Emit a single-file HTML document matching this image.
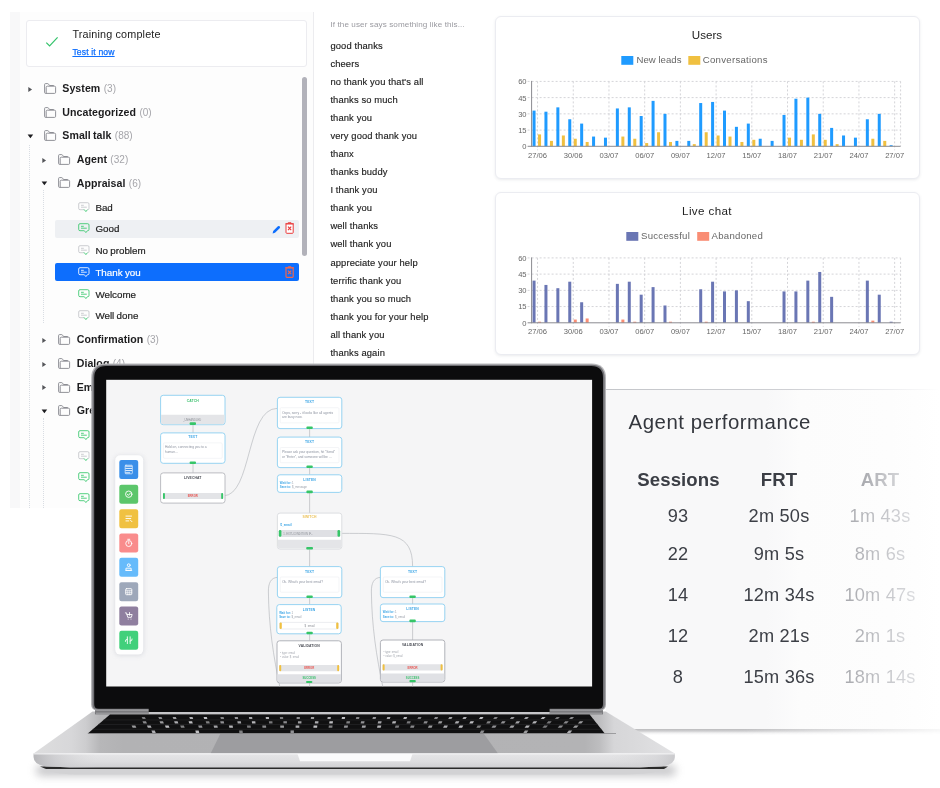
<!DOCTYPE html>
<html lang="en"><head><meta charset="utf-8"><title>Dashboard</title>
<style>
html,body{margin:0;padding:0;background:#fff}
body{width:940px;height:788px;position:relative;overflow:hidden;font-family:"Liberation Sans", sans-serif;-webkit-font-smoothing:antialiased}
.abs{position:absolute}
#tree{position:absolute;left:0;top:0;width:480px;height:510px;overflow:hidden}
.fl{position:absolute;font-size:10.6px;line-height:14px;color:#1c1c1e;white-space:nowrap;letter-spacing:.06px;word-spacing:-.9px}
.fl span{color:#a5a5aa;font-weight:400;font-size:10px;letter-spacing:.05px;margin-left:1.2px}
.it{position:absolute;font-size:9.8px;line-height:14px;white-space:nowrap;letter-spacing:0;word-spacing:-.4px;-webkit-text-stroke:.18px currentColor}
.ph{position:absolute;left:330.4px;font-size:9.4px;line-height:14px;color:#222;white-space:nowrap;letter-spacing:.12px;-webkit-text-stroke:.15px #222}
.card{position:absolute;left:495px;width:422.5px;height:161.5px;background:#fff;border:1px solid #ebecf1;border-radius:6px;box-shadow:0 1px 3px rgba(60,70,90,.11)}
svg text{font-family:"Liberation Sans", sans-serif}

.agh{font-size:18.6px;line-height:22px;font-weight:700;text-align:center;white-space:nowrap;letter-spacing:.1px}
.agr{font-size:18.2px;line-height:22px;text-align:center;white-space:nowrap;letter-spacing:.2px}
.agf{color:#c2c3c7;background:linear-gradient(90deg,#a3a4a9 15%,#dfe0e3 85%);-webkit-background-clip:text;background-clip:text;-webkit-text-fill-color:transparent}

#wrap{position:absolute;left:0;top:0;width:940px;height:788px;overflow:hidden;will-change:transform}
</style></head><body><div id="wrap">

<!-- ============ intent tree panel ============ -->
<div id="tree">
  <div class="abs" style="left:10px;top:12px;width:303px;height:496px;background:#fdfdfd"></div>
  <div class="abs" style="left:10px;top:12px;width:10px;height:496px;background:#f8f8f9"></div>
  <div class="abs" style="left:313px;top:12px;width:1px;height:496px;background:#ececef"></div>
  <div class="abs" style="left:26px;top:19.6px;width:279px;height:45.4px;border:1px solid #ececf0;border-radius:3px;background:#fff"></div>
  <svg class="abs" style="left:45px;top:36px" width="14" height="12" viewBox="0 0 14 12"><path d="M1.3 6.6 L4.6 10 L12.6 1.4" fill="none" stroke="#34c36b" stroke-width="1.2"/></svg>
  <div class="abs" style="left:72.4px;top:27.4px;font-size:10.8px;line-height:14px;color:#222;letter-spacing:.17px">Training complete</div>
  <div class="abs" style="left:72.4px;top:45.7px;font-size:8.6px;line-height:12px;color:#0d6efd;text-decoration:underline;text-underline-offset:.6px;text-decoration-thickness:.7px;letter-spacing:.15px;-webkit-text-stroke:.25px #0d6efd">Test it now</div>
  <!-- guides -->
  <div class="abs" style="left:29px;top:145px;width:0;height:363px;border-left:1px dotted #d9dde3"></div>
  <div class="abs" style="left:43px;top:190px;width:0;height:133px;border-left:1px dotted #d9dde3"></div>
  <div class="abs" style="left:43px;top:418px;width:0;height:90px;border-left:1px dotted #d9dde3"></div>
  <!-- scrollbar -->
  <div class="abs" style="left:302.1px;top:77px;width:4.7px;height:178.5px;border-radius:2.5px;background:#b2b2ba"></div>
  <svg style="position:absolute;left:27.8px;top:85.9px" width="5" height="7" viewBox="0 0 5 7"><path d="M0.3 0.9 L4.1 3.5 L0.3 6.1 Z" fill="#55565a"/></svg>
<svg style="position:absolute;left:43.9px;top:83.1px" width="13" height="12" viewBox="0 0 13 12"><path d="M0.6 9.4 V1.5 Q0.6 0.6 1.5 0.6 H3.7 Q4.3 0.6 4.6 1.2 L5 2 Q5.2 2.5 5.8 2.5 H9.8" fill="none" stroke="#85868c" stroke-width=".9"/><path d="M2.2 10.3 V4.3 Q2.2 3.2 3.3 3.2 H10.5 Q11.6 3.2 11.6 4.3 V9.3 Q11.6 10.4 10.5 10.4 H1.6 Q0.6 10.4 0.6 9.4" fill="none" stroke="#85868c" stroke-width=".9"/></svg>
<div class="fl" style="left:62.3px;top:81.3px"><b>System</b> <span>(3)</span></div>
<svg style="position:absolute;left:43.9px;top:106.5px" width="13" height="12" viewBox="0 0 13 12"><path d="M0.6 9.4 V1.5 Q0.6 0.6 1.5 0.6 H3.7 Q4.3 0.6 4.6 1.2 L5 2 Q5.2 2.5 5.8 2.5 H9.8" fill="none" stroke="#85868c" stroke-width=".9"/><path d="M2.2 10.3 V4.3 Q2.2 3.2 3.3 3.2 H10.5 Q11.6 3.2 11.6 4.3 V9.3 Q11.6 10.4 10.5 10.4 H1.6 Q0.6 10.4 0.6 9.4" fill="none" stroke="#85868c" stroke-width=".9"/></svg>
<div class="fl" style="left:62.3px;top:104.7px"><b>Uncategorized</b> <span>(0)</span></div>
<svg style="position:absolute;left:26.8px;top:133.6px" width="7" height="5" viewBox="0 0 7 5"><path d="M0.6 0.4 L6.2 0.4 L3.4 4.2 Z" fill="#1d1d20"/></svg>
<svg style="position:absolute;left:43.9px;top:129.79999999999998px" width="13" height="12" viewBox="0 0 13 12"><path d="M0.6 9.4 V1.5 Q0.6 0.6 1.5 0.6 H3.7 Q4.3 0.6 4.6 1.2 L5 2 Q5.2 2.5 5.8 2.5 H9.8" fill="none" stroke="#85868c" stroke-width=".9"/><path d="M2.2 10.3 V4.3 Q2.2 3.2 3.3 3.2 H10.5 Q11.6 3.2 11.6 4.3 V9.3 Q11.6 10.4 10.5 10.4 H1.6 Q0.6 10.4 0.6 9.4" fill="none" stroke="#85868c" stroke-width=".9"/></svg>
<div class="fl" style="left:62.3px;top:128.0px"><b>Small talk</b> <span>(88)</span></div>
<svg style="position:absolute;left:42.0px;top:156.6px" width="5" height="7" viewBox="0 0 5 7"><path d="M0.3 0.9 L4.1 3.5 L0.3 6.1 Z" fill="#55565a"/></svg>
<svg style="position:absolute;left:58.1px;top:153.79999999999998px" width="13" height="12" viewBox="0 0 13 12"><path d="M0.6 9.4 V1.5 Q0.6 0.6 1.5 0.6 H3.7 Q4.3 0.6 4.6 1.2 L5 2 Q5.2 2.5 5.8 2.5 H9.8" fill="none" stroke="#85868c" stroke-width=".9"/><path d="M2.2 10.3 V4.3 Q2.2 3.2 3.3 3.2 H10.5 Q11.6 3.2 11.6 4.3 V9.3 Q11.6 10.4 10.5 10.4 H1.6 Q0.6 10.4 0.6 9.4" fill="none" stroke="#85868c" stroke-width=".9"/></svg>
<div class="fl" style="left:76.7px;top:152.0px"><b>Agent</b> <span>(32)</span></div>
<svg style="position:absolute;left:41.0px;top:181.20000000000002px" width="7" height="5" viewBox="0 0 7 5"><path d="M0.6 0.4 L6.2 0.4 L3.4 4.2 Z" fill="#1d1d20"/></svg>
<svg style="position:absolute;left:58.1px;top:177.4px" width="13" height="12" viewBox="0 0 13 12"><path d="M0.6 9.4 V1.5 Q0.6 0.6 1.5 0.6 H3.7 Q4.3 0.6 4.6 1.2 L5 2 Q5.2 2.5 5.8 2.5 H9.8" fill="none" stroke="#85868c" stroke-width=".9"/><path d="M2.2 10.3 V4.3 Q2.2 3.2 3.3 3.2 H10.5 Q11.6 3.2 11.6 4.3 V9.3 Q11.6 10.4 10.5 10.4 H1.6 Q0.6 10.4 0.6 9.4" fill="none" stroke="#85868c" stroke-width=".9"/></svg>
<div class="fl" style="left:76.7px;top:175.6px"><b>Appraisal</b> <span>(6)</span></div>
<svg style="position:absolute;left:42.0px;top:336.79999999999995px" width="5" height="7" viewBox="0 0 5 7"><path d="M0.3 0.9 L4.1 3.5 L0.3 6.1 Z" fill="#55565a"/></svg>
<svg style="position:absolute;left:58.1px;top:334.0px" width="13" height="12" viewBox="0 0 13 12"><path d="M0.6 9.4 V1.5 Q0.6 0.6 1.5 0.6 H3.7 Q4.3 0.6 4.6 1.2 L5 2 Q5.2 2.5 5.8 2.5 H9.8" fill="none" stroke="#85868c" stroke-width=".9"/><path d="M2.2 10.3 V4.3 Q2.2 3.2 3.3 3.2 H10.5 Q11.6 3.2 11.6 4.3 V9.3 Q11.6 10.4 10.5 10.4 H1.6 Q0.6 10.4 0.6 9.4" fill="none" stroke="#85868c" stroke-width=".9"/></svg>
<div class="fl" style="left:76.7px;top:332.2px"><b>Confirmation</b> <span>(3)</span></div>
<svg style="position:absolute;left:42.0px;top:360.59999999999997px" width="5" height="7" viewBox="0 0 5 7"><path d="M0.3 0.9 L4.1 3.5 L0.3 6.1 Z" fill="#55565a"/></svg>
<svg style="position:absolute;left:58.1px;top:357.8px" width="13" height="12" viewBox="0 0 13 12"><path d="M0.6 9.4 V1.5 Q0.6 0.6 1.5 0.6 H3.7 Q4.3 0.6 4.6 1.2 L5 2 Q5.2 2.5 5.8 2.5 H9.8" fill="none" stroke="#85868c" stroke-width=".9"/><path d="M2.2 10.3 V4.3 Q2.2 3.2 3.3 3.2 H10.5 Q11.6 3.2 11.6 4.3 V9.3 Q11.6 10.4 10.5 10.4 H1.6 Q0.6 10.4 0.6 9.4" fill="none" stroke="#85868c" stroke-width=".9"/></svg>
<div class="fl" style="left:76.7px;top:356.0px"><b>Dialog</b> <span>(4)</span></div>
<svg style="position:absolute;left:42.0px;top:384.4px" width="5" height="7" viewBox="0 0 5 7"><path d="M0.3 0.9 L4.1 3.5 L0.3 6.1 Z" fill="#55565a"/></svg>
<svg style="position:absolute;left:58.1px;top:381.6px" width="13" height="12" viewBox="0 0 13 12"><path d="M0.6 9.4 V1.5 Q0.6 0.6 1.5 0.6 H3.7 Q4.3 0.6 4.6 1.2 L5 2 Q5.2 2.5 5.8 2.5 H9.8" fill="none" stroke="#85868c" stroke-width=".9"/><path d="M2.2 10.3 V4.3 Q2.2 3.2 3.3 3.2 H10.5 Q11.6 3.2 11.6 4.3 V9.3 Q11.6 10.4 10.5 10.4 H1.6 Q0.6 10.4 0.6 9.4" fill="none" stroke="#85868c" stroke-width=".9"/></svg>
<div class="fl" style="left:76.7px;top:379.8px"><b>Emotions</b> <span>(8)</span></div>
<svg style="position:absolute;left:41.0px;top:408.7px" width="7" height="5" viewBox="0 0 7 5"><path d="M0.6 0.4 L6.2 0.4 L3.4 4.2 Z" fill="#1d1d20"/></svg>
<svg style="position:absolute;left:58.1px;top:404.90000000000003px" width="13" height="12" viewBox="0 0 13 12"><path d="M0.6 9.4 V1.5 Q0.6 0.6 1.5 0.6 H3.7 Q4.3 0.6 4.6 1.2 L5 2 Q5.2 2.5 5.8 2.5 H9.8" fill="none" stroke="#85868c" stroke-width=".9"/><path d="M2.2 10.3 V4.3 Q2.2 3.2 3.3 3.2 H10.5 Q11.6 3.2 11.6 4.3 V9.3 Q11.6 10.4 10.5 10.4 H1.6 Q0.6 10.4 0.6 9.4" fill="none" stroke="#85868c" stroke-width=".9"/></svg>
<div class="fl" style="left:76.7px;top:403.1px"><b>Greetings</b> <span>(4)</span></div>
<div style="position:absolute;left:55px;top:220px;width:244px;height:18px;border-radius:2px;background:#eef0f3"></div>
<div style="position:absolute;left:55px;top:263px;width:244px;height:18px;border-radius:2px;background:#0d6efd"></div>
<svg style="position:absolute;left:77.7px;top:201.9px" width="12" height="11" viewBox="0 0 12 11"><path d="M9.4 7.7 H9.7 Q11 7.7 11 6.4 V2 Q11 0.7 9.7 0.7 H2 Q0.7 0.7 0.7 2 V6.4 Q0.7 7.7 2 7.7 H5.8" fill="none" stroke="#c3c5ca" stroke-width=".85"/><path d="M5.8 7.7 H6.3 L7.9 9.6 L9.4 7.7" fill="none" stroke="#36c76c" stroke-width=".85"/><path d="M3 3.3 H5.8 M3 5.2 H8.8" stroke="#c3c5ca" stroke-width=".85"/></svg>
<div class="it" style="left:95.4px;top:200.9px;color:#222">Bad</div>
<svg style="position:absolute;left:77.7px;top:223.4px" width="12" height="11" viewBox="0 0 12 11"><path d="M9.4 7.7 H9.7 Q11 7.7 11 6.4 V2 Q11 0.7 9.7 0.7 H2 Q0.7 0.7 0.7 2 V6.4 Q0.7 7.7 2 7.7 H5.8" fill="none" stroke="#36c76c" stroke-width=".85"/><path d="M5.8 7.7 H6.3 L7.9 9.6 L9.4 7.7" fill="none" stroke="#36c76c" stroke-width=".85"/><path d="M3 3.3 H5.8 M3 5.2 H8.8" stroke="#36c76c" stroke-width=".85"/></svg>
<div class="it" style="left:95.4px;top:222.4px;color:#222">Good</div>
<svg style="position:absolute;left:77.7px;top:245.1px" width="12" height="11" viewBox="0 0 12 11"><path d="M9.4 7.7 H9.7 Q11 7.7 11 6.4 V2 Q11 0.7 9.7 0.7 H2 Q0.7 0.7 0.7 2 V6.4 Q0.7 7.7 2 7.7 H5.8" fill="none" stroke="#c3c5ca" stroke-width=".85"/><path d="M5.8 7.7 H6.3 L7.9 9.6 L9.4 7.7" fill="none" stroke="#36c76c" stroke-width=".85"/><path d="M3 3.3 H5.8 M3 5.2 H8.8" stroke="#c3c5ca" stroke-width=".85"/></svg>
<div class="it" style="left:95.4px;top:244.1px;color:#222">No problem</div>
<svg style="position:absolute;left:77.7px;top:266.70000000000005px" width="12" height="11" viewBox="0 0 12 11"><path d="M9.4 7.7 H9.7 Q11 7.7 11 6.4 V2 Q11 0.7 9.7 0.7 H2 Q0.7 0.7 0.7 2 V6.4 Q0.7 7.7 2 7.7 H5.8" fill="none" stroke="#ffffff" stroke-width=".85"/><path d="M5.8 7.7 H6.3 L7.9 9.6 L9.4 7.7" fill="none" stroke="#ffffff" stroke-width=".85"/><path d="M3 3.3 H5.8 M3 5.2 H8.8" stroke="#ffffff" stroke-width=".85"/></svg>
<div class="it" style="left:95.4px;top:265.7px;color:#fff">Thank you</div>
<svg style="position:absolute;left:77.7px;top:288.5px" width="12" height="11" viewBox="0 0 12 11"><path d="M9.4 7.7 H9.7 Q11 7.7 11 6.4 V2 Q11 0.7 9.7 0.7 H2 Q0.7 0.7 0.7 2 V6.4 Q0.7 7.7 2 7.7 H5.8" fill="none" stroke="#36c76c" stroke-width=".85"/><path d="M5.8 7.7 H6.3 L7.9 9.6 L9.4 7.7" fill="none" stroke="#36c76c" stroke-width=".85"/><path d="M3 3.3 H5.8 M3 5.2 H8.8" stroke="#36c76c" stroke-width=".85"/></svg>
<div class="it" style="left:95.4px;top:287.5px;color:#222">Welcome</div>
<svg style="position:absolute;left:77.7px;top:310.1px" width="12" height="11" viewBox="0 0 12 11"><path d="M9.4 7.7 H9.7 Q11 7.7 11 6.4 V2 Q11 0.7 9.7 0.7 H2 Q0.7 0.7 0.7 2 V6.4 Q0.7 7.7 2 7.7 H5.8" fill="none" stroke="#c3c5ca" stroke-width=".85"/><path d="M5.8 7.7 H6.3 L7.9 9.6 L9.4 7.7" fill="none" stroke="#36c76c" stroke-width=".85"/><path d="M3 3.3 H5.8 M3 5.2 H8.8" stroke="#c3c5ca" stroke-width=".85"/></svg>
<div class="it" style="left:95.4px;top:309.1px;color:#222">Well done</div>
<svg style="position:absolute;left:77.7px;top:430.0px" width="12" height="11" viewBox="0 0 12 11"><path d="M9.4 7.7 H9.7 Q11 7.7 11 6.4 V2 Q11 0.7 9.7 0.7 H2 Q0.7 0.7 0.7 2 V6.4 Q0.7 7.7 2 7.7 H5.8" fill="none" stroke="#36c76c" stroke-width=".85"/><path d="M5.8 7.7 H6.3 L7.9 9.6 L9.4 7.7" fill="none" stroke="#36c76c" stroke-width=".85"/><path d="M3 3.3 H5.8 M3 5.2 H8.8" stroke="#36c76c" stroke-width=".85"/></svg>
<div class="it" style="left:95.4px;top:429.0px;color:#222">Hello</div>
<svg style="position:absolute;left:77.7px;top:451.20000000000005px" width="12" height="11" viewBox="0 0 12 11"><path d="M9.4 7.7 H9.7 Q11 7.7 11 6.4 V2 Q11 0.7 9.7 0.7 H2 Q0.7 0.7 0.7 2 V6.4 Q0.7 7.7 2 7.7 H5.8" fill="none" stroke="#c3c5ca" stroke-width=".85"/><path d="M5.8 7.7 H6.3 L7.9 9.6 L9.4 7.7" fill="none" stroke="#36c76c" stroke-width=".85"/><path d="M3 3.3 H5.8 M3 5.2 H8.8" stroke="#c3c5ca" stroke-width=".85"/></svg>
<div class="it" style="left:95.4px;top:450.2px;color:#222">Goodbye</div>
<svg style="position:absolute;left:77.7px;top:472.20000000000005px" width="12" height="11" viewBox="0 0 12 11"><path d="M9.4 7.7 H9.7 Q11 7.7 11 6.4 V2 Q11 0.7 9.7 0.7 H2 Q0.7 0.7 0.7 2 V6.4 Q0.7 7.7 2 7.7 H5.8" fill="none" stroke="#36c76c" stroke-width=".85"/><path d="M5.8 7.7 H6.3 L7.9 9.6 L9.4 7.7" fill="none" stroke="#36c76c" stroke-width=".85"/><path d="M3 3.3 H5.8 M3 5.2 H8.8" stroke="#36c76c" stroke-width=".85"/></svg>
<div class="it" style="left:95.4px;top:471.2px;color:#222">Nice to meet you</div>
<svg style="position:absolute;left:77.7px;top:493.20000000000005px" width="12" height="11" viewBox="0 0 12 11"><path d="M9.4 7.7 H9.7 Q11 7.7 11 6.4 V2 Q11 0.7 9.7 0.7 H2 Q0.7 0.7 0.7 2 V6.4 Q0.7 7.7 2 7.7 H5.8" fill="none" stroke="#36c76c" stroke-width=".85"/><path d="M5.8 7.7 H6.3 L7.9 9.6 L9.4 7.7" fill="none" stroke="#36c76c" stroke-width=".85"/><path d="M3 3.3 H5.8 M3 5.2 H8.8" stroke="#36c76c" stroke-width=".85"/></svg>
<div class="it" style="left:95.4px;top:492.2px;color:#222">Good morning</div>
<svg style="position:absolute;left:272.4px;top:224.6px" width="9" height="9" viewBox="0 0 9 9"><path d="M0.6 8.4 L1.2 6 L5.9 1.3 Q6.7 0.5 7.5 1.3 L7.8 1.6 Q8.5 2.4 7.7 3.2 L3 7.8 Z" fill="#0d6efd"/></svg>
<svg style="position:absolute;left:284.9px;top:222.4px" width="10" height="12" viewBox="0 0 10 12"><path d="M1 1.9 H8.2 V10.5 Q8.2 11.3 7.4 11.3 H1.8 Q1 11.3 1 10.5 Z" fill="#fff" stroke="#ea3a3a" stroke-width="1"/><path d="M0.4 1.7 H8.8 M3.2 1.5 V0.7 H6 V1.5" fill="none" stroke="#ea3a3a" stroke-width=".9"/><path d="M3 4.7 L6.2 8.1 M6.2 4.7 L3 8.1" stroke="#ea3a3a" stroke-width="1.15"/></svg>
<svg style="position:absolute;left:284.9px;top:265.8px" width="10" height="12" viewBox="0 0 10 12"><path d="M1 1.9 H8.2 V10.5 Q8.2 11.3 7.4 11.3 H1.8 Q1 11.3 1 10.5 Z" fill="none" stroke="#f4654c" stroke-width="1.15"/><path d="M0.4 1.7 H8.8 M3.2 1.5 V0.7 H6 V1.5" fill="none" stroke="#f4654c" stroke-width=".9"/><path d="M3 4.7 L6.2 8.1 M6.2 4.7 L3 8.1" stroke="#f4654c" stroke-width="1.15"/></svg>
  <div class="abs" style="left:330.4px;top:19.3px;font-size:8.1px;line-height:12px;color:#9a9aa0;white-space:nowrap;letter-spacing:.1px">If the user says something like this...</div>
  <div class="ph" style="top:39.1px">good thanks</div>
<div class="ph" style="top:57.1px">cheers</div>
<div class="ph" style="top:75.2px">no thank you that's all</div>
<div class="ph" style="top:93.2px">thanks so much</div>
<div class="ph" style="top:111.2px">thank you</div>
<div class="ph" style="top:129.2px">very good thank you</div>
<div class="ph" style="top:147.3px">thanx</div>
<div class="ph" style="top:165.3px">thanks buddy</div>
<div class="ph" style="top:183.3px">I thank you</div>
<div class="ph" style="top:201.4px">thank you</div>
<div class="ph" style="top:219.4px">well thanks</div>
<div class="ph" style="top:237.4px">well thank you</div>
<div class="ph" style="top:255.5px">appreciate your help</div>
<div class="ph" style="top:273.5px">terrific thank you</div>
<div class="ph" style="top:291.5px">thank you so much</div>
<div class="ph" style="top:309.6px">thank you for your help</div>
<div class="ph" style="top:327.6px">all thank you</div>
<div class="ph" style="top:345.6px">thanks again</div>
</div>

<!-- ============ charts ============ -->
<div class="card" style="top:15.5px"></div>
<div class="card" style="top:191.5px"></div>
<svg class="abs" style="left:0;top:0" width="940" height="370" viewBox="0 0 940 370">
<line x1="527.6" y1="81.40" x2="900.6" y2="81.40" stroke="#d4d4d8" stroke-width="1" stroke-dasharray="2 2"/>
<line x1="527.6" y1="97.62" x2="900.6" y2="97.62" stroke="#d4d4d8" stroke-width="1" stroke-dasharray="2 2"/>
<line x1="527.6" y1="113.85" x2="900.6" y2="113.85" stroke="#d4d4d8" stroke-width="1" stroke-dasharray="2 2"/>
<line x1="527.6" y1="130.08" x2="900.6" y2="130.08" stroke="#d4d4d8" stroke-width="1" stroke-dasharray="2 2"/>
<line x1="537.55" y1="81.40" x2="537.55" y2="150.30" stroke="#d4d4d8" stroke-width="1" stroke-dasharray="2 2"/>
<line x1="573.26" y1="81.40" x2="573.26" y2="150.30" stroke="#d4d4d8" stroke-width="1" stroke-dasharray="2 2"/>
<line x1="608.97" y1="81.40" x2="608.97" y2="150.30" stroke="#d4d4d8" stroke-width="1" stroke-dasharray="2 2"/>
<line x1="644.68" y1="81.40" x2="644.68" y2="150.30" stroke="#d4d4d8" stroke-width="1" stroke-dasharray="2 2"/>
<line x1="680.39" y1="81.40" x2="680.39" y2="150.30" stroke="#d4d4d8" stroke-width="1" stroke-dasharray="2 2"/>
<line x1="716.10" y1="81.40" x2="716.10" y2="150.30" stroke="#d4d4d8" stroke-width="1" stroke-dasharray="2 2"/>
<line x1="751.81" y1="81.40" x2="751.81" y2="150.30" stroke="#d4d4d8" stroke-width="1" stroke-dasharray="2 2"/>
<line x1="787.52" y1="81.40" x2="787.52" y2="150.30" stroke="#d4d4d8" stroke-width="1" stroke-dasharray="2 2"/>
<line x1="823.23" y1="81.40" x2="823.23" y2="150.30" stroke="#d4d4d8" stroke-width="1" stroke-dasharray="2 2"/>
<line x1="858.94" y1="81.40" x2="858.94" y2="150.30" stroke="#d4d4d8" stroke-width="1" stroke-dasharray="2 2"/>
<line x1="894.65" y1="81.40" x2="894.65" y2="150.30" stroke="#d4d4d8" stroke-width="1" stroke-dasharray="2 2"/>
<line x1="900.60" y1="81.40" x2="900.60" y2="146.30" stroke="#d4d4d8" stroke-width="1" stroke-dasharray="2 2"/>
<rect x="532.55" y="110.61" width="3.0" height="35.70" fill="#1f9bff"/>
<rect x="538.05" y="134.40" width="3.0" height="11.90" fill="#f0c040"/>
<rect x="544.45" y="111.69" width="3.0" height="34.61" fill="#1f9bff"/>
<rect x="549.95" y="140.89" width="3.0" height="5.41" fill="#f0c040"/>
<rect x="556.36" y="107.36" width="3.0" height="38.94" fill="#1f9bff"/>
<rect x="561.86" y="135.48" width="3.0" height="10.82" fill="#f0c040"/>
<rect x="568.26" y="119.26" width="3.0" height="27.04" fill="#1f9bff"/>
<rect x="573.76" y="138.73" width="3.0" height="7.57" fill="#f0c040"/>
<rect x="580.16" y="123.59" width="3.0" height="22.71" fill="#1f9bff"/>
<rect x="585.66" y="141.97" width="3.0" height="4.33" fill="#f0c040"/>
<rect x="592.07" y="136.56" width="3.0" height="9.74" fill="#1f9bff"/>
<rect x="603.97" y="137.65" width="3.0" height="8.65" fill="#1f9bff"/>
<rect x="615.87" y="108.44" width="3.0" height="37.86" fill="#1f9bff"/>
<rect x="621.37" y="136.56" width="3.0" height="9.74" fill="#f0c040"/>
<rect x="627.78" y="107.36" width="3.0" height="38.94" fill="#1f9bff"/>
<rect x="633.28" y="138.73" width="3.0" height="7.57" fill="#f0c040"/>
<rect x="639.68" y="116.01" width="3.0" height="30.29" fill="#1f9bff"/>
<rect x="645.18" y="143.06" width="3.0" height="3.25" fill="#f0c040"/>
<rect x="651.58" y="100.87" width="3.0" height="45.43" fill="#1f9bff"/>
<rect x="657.08" y="132.24" width="3.0" height="14.06" fill="#f0c040"/>
<rect x="663.49" y="113.85" width="3.0" height="32.45" fill="#1f9bff"/>
<rect x="668.99" y="141.97" width="3.0" height="4.33" fill="#f0c040"/>
<rect x="675.39" y="140.89" width="3.0" height="5.41" fill="#1f9bff"/>
<rect x="687.29" y="140.89" width="3.0" height="5.41" fill="#1f9bff"/>
<rect x="692.79" y="144.14" width="3.0" height="2.16" fill="#f0c040"/>
<rect x="699.20" y="103.03" width="3.0" height="43.27" fill="#1f9bff"/>
<rect x="704.70" y="132.24" width="3.0" height="14.06" fill="#f0c040"/>
<rect x="711.10" y="101.95" width="3.0" height="44.35" fill="#1f9bff"/>
<rect x="716.60" y="135.48" width="3.0" height="10.82" fill="#f0c040"/>
<rect x="723.00" y="110.61" width="3.0" height="35.70" fill="#1f9bff"/>
<rect x="728.50" y="136.56" width="3.0" height="9.74" fill="#f0c040"/>
<rect x="734.91" y="126.83" width="3.0" height="19.47" fill="#1f9bff"/>
<rect x="740.41" y="141.97" width="3.0" height="4.33" fill="#f0c040"/>
<rect x="746.81" y="123.59" width="3.0" height="22.71" fill="#1f9bff"/>
<rect x="752.31" y="139.81" width="3.0" height="6.49" fill="#f0c040"/>
<rect x="758.71" y="138.73" width="3.0" height="7.57" fill="#1f9bff"/>
<rect x="770.62" y="140.89" width="3.0" height="5.41" fill="#1f9bff"/>
<rect x="782.52" y="114.93" width="3.0" height="31.37" fill="#1f9bff"/>
<rect x="788.02" y="137.65" width="3.0" height="8.65" fill="#f0c040"/>
<rect x="794.42" y="98.71" width="3.0" height="47.59" fill="#1f9bff"/>
<rect x="799.92" y="139.81" width="3.0" height="6.49" fill="#f0c040"/>
<rect x="806.33" y="97.62" width="3.0" height="48.68" fill="#1f9bff"/>
<rect x="811.83" y="134.40" width="3.0" height="11.90" fill="#f0c040"/>
<rect x="818.23" y="113.85" width="3.0" height="32.45" fill="#1f9bff"/>
<rect x="823.73" y="139.81" width="3.0" height="6.49" fill="#f0c040"/>
<rect x="830.13" y="127.91" width="3.0" height="18.39" fill="#1f9bff"/>
<rect x="835.63" y="144.14" width="3.0" height="2.16" fill="#f0c040"/>
<rect x="842.04" y="135.48" width="3.0" height="10.82" fill="#1f9bff"/>
<rect x="853.94" y="137.65" width="3.0" height="8.65" fill="#1f9bff"/>
<rect x="865.84" y="119.26" width="3.0" height="27.04" fill="#1f9bff"/>
<rect x="871.34" y="138.73" width="3.0" height="7.57" fill="#f0c040"/>
<rect x="877.75" y="113.85" width="3.0" height="32.45" fill="#1f9bff"/>
<rect x="883.25" y="140.89" width="3.0" height="5.41" fill="#f0c040"/>
<rect x="889.65" y="145.22" width="3.0" height="1.08" fill="#1f9bff"/>
<line x1="531.60" y1="80.90" x2="531.60" y2="146.80" stroke="#8a8a90" stroke-width="1"/>
<line x1="527.60" y1="146.30" x2="900.60" y2="146.30" stroke="#8a8a90" stroke-width="1"/>
<text x="526.6" y="84.30" text-anchor="end" font-size="7.6" fill="#666">60</text>
<text x="526.6" y="100.53" text-anchor="end" font-size="7.6" fill="#666">45</text>
<text x="526.6" y="116.75" text-anchor="end" font-size="7.6" fill="#666">30</text>
<text x="526.6" y="132.98" text-anchor="end" font-size="7.6" fill="#666">15</text>
<text x="526.6" y="149.20" text-anchor="end" font-size="7.6" fill="#666">0</text>
<text x="537.55" y="157.90" text-anchor="middle" font-size="7.6" fill="#666">27/06</text>
<text x="573.26" y="157.90" text-anchor="middle" font-size="7.6" fill="#666">30/06</text>
<text x="608.97" y="157.90" text-anchor="middle" font-size="7.6" fill="#666">03/07</text>
<text x="644.68" y="157.90" text-anchor="middle" font-size="7.6" fill="#666">06/07</text>
<text x="680.39" y="157.90" text-anchor="middle" font-size="7.6" fill="#666">09/07</text>
<text x="716.10" y="157.90" text-anchor="middle" font-size="7.6" fill="#666">12/07</text>
<text x="751.81" y="157.90" text-anchor="middle" font-size="7.6" fill="#666">15/07</text>
<text x="787.52" y="157.90" text-anchor="middle" font-size="7.6" fill="#666">18/07</text>
<text x="823.23" y="157.90" text-anchor="middle" font-size="7.6" fill="#666">21/07</text>
<text x="858.94" y="157.90" text-anchor="middle" font-size="7.6" fill="#666">24/07</text>
<text x="894.65" y="157.90" text-anchor="middle" font-size="7.6" fill="#666">27/07</text>
<text x="707" y="38.6" text-anchor="middle" font-size="11.6" fill="#222" letter-spacing="0">Users</text>
<rect x="621.3" y="56.0" width="12" height="8.8" fill="#1f9bff"/>
<text x="636.5" y="63.4" font-size="9.6" fill="#666" letter-spacing="0.02">New leads</text>
<rect x="688.3" y="56.0" width="12" height="8.8" fill="#f0c040"/>
<text x="702.8" y="63.4" font-size="9.6" fill="#666" letter-spacing="0.28">Conversations</text>
<line x1="527.6" y1="257.90" x2="900.6" y2="257.90" stroke="#d4d4d8" stroke-width="1" stroke-dasharray="2 2"/>
<line x1="527.6" y1="274.12" x2="900.6" y2="274.12" stroke="#d4d4d8" stroke-width="1" stroke-dasharray="2 2"/>
<line x1="527.6" y1="290.35" x2="900.6" y2="290.35" stroke="#d4d4d8" stroke-width="1" stroke-dasharray="2 2"/>
<line x1="527.6" y1="306.57" x2="900.6" y2="306.57" stroke="#d4d4d8" stroke-width="1" stroke-dasharray="2 2"/>
<line x1="537.55" y1="257.90" x2="537.55" y2="326.80" stroke="#d4d4d8" stroke-width="1" stroke-dasharray="2 2"/>
<line x1="573.26" y1="257.90" x2="573.26" y2="326.80" stroke="#d4d4d8" stroke-width="1" stroke-dasharray="2 2"/>
<line x1="608.97" y1="257.90" x2="608.97" y2="326.80" stroke="#d4d4d8" stroke-width="1" stroke-dasharray="2 2"/>
<line x1="644.68" y1="257.90" x2="644.68" y2="326.80" stroke="#d4d4d8" stroke-width="1" stroke-dasharray="2 2"/>
<line x1="680.39" y1="257.90" x2="680.39" y2="326.80" stroke="#d4d4d8" stroke-width="1" stroke-dasharray="2 2"/>
<line x1="716.10" y1="257.90" x2="716.10" y2="326.80" stroke="#d4d4d8" stroke-width="1" stroke-dasharray="2 2"/>
<line x1="751.81" y1="257.90" x2="751.81" y2="326.80" stroke="#d4d4d8" stroke-width="1" stroke-dasharray="2 2"/>
<line x1="787.52" y1="257.90" x2="787.52" y2="326.80" stroke="#d4d4d8" stroke-width="1" stroke-dasharray="2 2"/>
<line x1="823.23" y1="257.90" x2="823.23" y2="326.80" stroke="#d4d4d8" stroke-width="1" stroke-dasharray="2 2"/>
<line x1="858.94" y1="257.90" x2="858.94" y2="326.80" stroke="#d4d4d8" stroke-width="1" stroke-dasharray="2 2"/>
<line x1="894.65" y1="257.90" x2="894.65" y2="326.80" stroke="#d4d4d8" stroke-width="1" stroke-dasharray="2 2"/>
<line x1="900.60" y1="257.90" x2="900.60" y2="322.80" stroke="#d4d4d8" stroke-width="1" stroke-dasharray="2 2"/>
<rect x="532.55" y="280.62" width="3.0" height="42.19" fill="#6a76b4"/>
<rect x="538.05" y="321.72" width="3.0" height="1.08" fill="#f98d74"/>
<rect x="544.45" y="284.94" width="3.0" height="37.86" fill="#6a76b4"/>
<rect x="556.36" y="288.19" width="3.0" height="34.61" fill="#6a76b4"/>
<rect x="568.26" y="281.70" width="3.0" height="41.10" fill="#6a76b4"/>
<rect x="573.76" y="319.56" width="3.0" height="3.25" fill="#f98d74"/>
<rect x="580.16" y="302.25" width="3.0" height="20.55" fill="#6a76b4"/>
<rect x="585.66" y="318.47" width="3.0" height="4.33" fill="#f98d74"/>
<rect x="615.87" y="283.86" width="3.0" height="38.94" fill="#6a76b4"/>
<rect x="621.37" y="319.56" width="3.0" height="3.25" fill="#f98d74"/>
<rect x="627.78" y="281.70" width="3.0" height="41.10" fill="#6a76b4"/>
<rect x="633.28" y="321.72" width="3.0" height="1.08" fill="#f98d74"/>
<rect x="639.68" y="294.68" width="3.0" height="28.12" fill="#6a76b4"/>
<rect x="651.58" y="287.11" width="3.0" height="35.70" fill="#6a76b4"/>
<rect x="663.49" y="305.49" width="3.0" height="17.31" fill="#6a76b4"/>
<rect x="668.99" y="321.72" width="3.0" height="1.08" fill="#f98d74"/>
<rect x="699.20" y="289.27" width="3.0" height="33.53" fill="#6a76b4"/>
<rect x="704.70" y="321.72" width="3.0" height="1.08" fill="#f98d74"/>
<rect x="711.10" y="281.70" width="3.0" height="41.10" fill="#6a76b4"/>
<rect x="723.00" y="291.43" width="3.0" height="31.37" fill="#6a76b4"/>
<rect x="734.91" y="290.35" width="3.0" height="32.45" fill="#6a76b4"/>
<rect x="746.81" y="301.17" width="3.0" height="21.63" fill="#6a76b4"/>
<rect x="782.52" y="291.43" width="3.0" height="31.37" fill="#6a76b4"/>
<rect x="794.42" y="291.43" width="3.0" height="31.37" fill="#6a76b4"/>
<rect x="806.33" y="280.62" width="3.0" height="42.19" fill="#6a76b4"/>
<rect x="811.83" y="321.72" width="3.0" height="1.08" fill="#f98d74"/>
<rect x="818.23" y="271.96" width="3.0" height="50.84" fill="#6a76b4"/>
<rect x="830.13" y="296.84" width="3.0" height="25.96" fill="#6a76b4"/>
<rect x="865.84" y="280.62" width="3.0" height="42.19" fill="#6a76b4"/>
<rect x="871.34" y="320.64" width="3.0" height="2.16" fill="#f98d74"/>
<rect x="877.75" y="294.68" width="3.0" height="28.12" fill="#6a76b4"/>
<rect x="889.65" y="321.72" width="3.0" height="1.08" fill="#6a76b4"/>
<line x1="531.60" y1="257.40" x2="531.60" y2="323.30" stroke="#8a8a90" stroke-width="1"/>
<line x1="527.60" y1="322.80" x2="900.60" y2="322.80" stroke="#8a8a90" stroke-width="1"/>
<text x="526.6" y="260.80" text-anchor="end" font-size="7.6" fill="#666">60</text>
<text x="526.6" y="277.02" text-anchor="end" font-size="7.6" fill="#666">45</text>
<text x="526.6" y="293.25" text-anchor="end" font-size="7.6" fill="#666">30</text>
<text x="526.6" y="309.47" text-anchor="end" font-size="7.6" fill="#666">15</text>
<text x="526.6" y="325.70" text-anchor="end" font-size="7.6" fill="#666">0</text>
<text x="537.55" y="334.40" text-anchor="middle" font-size="7.6" fill="#666">27/06</text>
<text x="573.26" y="334.40" text-anchor="middle" font-size="7.6" fill="#666">30/06</text>
<text x="608.97" y="334.40" text-anchor="middle" font-size="7.6" fill="#666">03/07</text>
<text x="644.68" y="334.40" text-anchor="middle" font-size="7.6" fill="#666">06/07</text>
<text x="680.39" y="334.40" text-anchor="middle" font-size="7.6" fill="#666">09/07</text>
<text x="716.10" y="334.40" text-anchor="middle" font-size="7.6" fill="#666">12/07</text>
<text x="751.81" y="334.40" text-anchor="middle" font-size="7.6" fill="#666">15/07</text>
<text x="787.52" y="334.40" text-anchor="middle" font-size="7.6" fill="#666">18/07</text>
<text x="823.23" y="334.40" text-anchor="middle" font-size="7.6" fill="#666">21/07</text>
<text x="858.94" y="334.40" text-anchor="middle" font-size="7.6" fill="#666">24/07</text>
<text x="894.65" y="334.40" text-anchor="middle" font-size="7.6" fill="#666">27/07</text>
<text x="707" y="214.6" text-anchor="middle" font-size="11.6" fill="#222" letter-spacing="0.38">Live chat</text>
<rect x="626.3" y="232.0" width="12" height="8.8" fill="#6a76b4"/>
<text x="641" y="239.4" font-size="9.6" fill="#666" letter-spacing="0.27">Successful</text>
<rect x="697.2" y="232.0" width="12" height="8.8" fill="#f98d74"/>
<text x="711.5" y="239.4" font-size="9.6" fill="#666" letter-spacing="0.28">Abandoned</text>
</svg>

<!-- ============ agent performance ============ -->
<div class="abs" style="left:606px;top:389px;width:334px;height:340px;background:linear-gradient(90deg,#f8f8f9 0,#f8f8f9 48%,#fcfcfc 58%,#fdfdfd 85%,#fff 100%)"></div>
<div class="abs" style="left:606px;top:388.5px;width:334px;height:1.4px;background:linear-gradient(90deg,#c4c6ca 0,#cfd0d4 55%,rgba(225,226,230,.6) 85%,rgba(255,255,255,0) 100%)"></div>
<div class="abs" style="left:600px;top:728.5px;width:340px;height:6px;background:linear-gradient(180deg,rgba(120,120,125,.5) 0,rgba(140,140,145,.42) 35%,rgba(160,160,165,.16) 65%,rgba(255,255,255,0) 100%);-webkit-mask-image:linear-gradient(90deg,#000 0,#000 42%,rgba(0,0,0,.55) 70%,rgba(0,0,0,.12) 100%);mask-image:linear-gradient(90deg,#000 0,#000 42%,rgba(0,0,0,.55) 70%,rgba(0,0,0,.12) 100%)"></div>
<div class="abs agt" style="left:628.6px;top:410.4px;font-size:20.4px;line-height:24px;color:#34373e;letter-spacing:.52px">Agent performance</div>
<div class="abs agh" style="left:618.5px;width:120px;top:469.3px;color:#3b3e45">Sessions</div>
<div class="abs agh" style="left:719px;width:120px;top:469.3px;color:#3b3e45">FRT</div>
<div class="abs agh agf" style="left:820px;width:120px;top:469.3px;background-image:linear-gradient(90deg,#a9aaaf 35%,#d2d3d6 65%)">ART</div>
<div class="abs agr" style="left:618px;width:120px;top:504.9px;color:#3c3f46">93</div>
<div class="abs agr" style="left:719px;width:120px;top:504.9px;color:#3c3f46">2m 50s</div>
<div class="abs agr agf" style="left:820px;width:120px;top:504.9px">1m 43s</div>
<div class="abs agr" style="left:618px;width:120px;top:543.0px;color:#3c3f46">22</div>
<div class="abs agr" style="left:719px;width:120px;top:543.0px;color:#3c3f46">9m 5s</div>
<div class="abs agr agf" style="left:820px;width:120px;top:543.0px">8m 6s</div>
<div class="abs agr" style="left:618px;width:120px;top:583.9px;color:#3c3f46">14</div>
<div class="abs agr" style="left:719px;width:120px;top:583.9px;color:#3c3f46">12m 34s</div>
<div class="abs agr agf" style="left:820px;width:120px;top:583.9px">10m 47s</div>
<div class="abs agr" style="left:618px;width:120px;top:625.1px;color:#3c3f46">12</div>
<div class="abs agr" style="left:719px;width:120px;top:625.1px;color:#3c3f46">2m 21s</div>
<div class="abs agr agf" style="left:820px;width:120px;top:625.1px">2m 1s</div>
<div class="abs agr" style="left:618px;width:120px;top:666.0px;color:#3c3f46">8</div>
<div class="abs agr" style="left:719px;width:120px;top:666.0px;color:#3c3f46">15m 36s</div>
<div class="abs agr agf" style="left:820px;width:120px;top:666.0px">18m 14s</div>
<!-- ============ laptop ============ -->
<svg class="abs" style="left:0;top:0" width="940" height="788" viewBox="0 0 940 788">
<defs>
<linearGradient id="deck" x1="33" y1="0" x2="675" y2="0" gradientUnits="userSpaceOnUse">
<stop offset="0" stop-color="#dededf"/><stop offset=".06" stop-color="#d7d7d9"/><stop offset=".082" stop-color="#cdcdcf"/><stop offset=".104" stop-color="#b7b7b9"/><stop offset=".14" stop-color="#b2b2b4"/>
<stop offset=".86" stop-color="#b3b3b5"/><stop offset=".882" stop-color="#bdbdbf"/><stop offset=".905" stop-color="#d6d6d8"/><stop offset=".94" stop-color="#dadadc"/><stop offset="1" stop-color="#e2e2e4"/></linearGradient>
<linearGradient id="lip" x1="0" y1="753" x2="0" y2="768" gradientUnits="userSpaceOnUse">
<stop offset="0" stop-color="#e6e6e8"/><stop offset=".55" stop-color="#dedee0"/><stop offset="1" stop-color="#cfcfd2"/></linearGradient>
<linearGradient id="lipx" x1="33" y1="0" x2="675" y2="0" gradientUnits="userSpaceOnUse">
<stop offset="0" stop-color="#b4b4b7" stop-opacity=".95"/><stop offset=".035" stop-color="#c6c6c9" stop-opacity=".65"/><stop offset=".1" stop-color="#d8d8d9" stop-opacity="0"/><stop offset=".9" stop-color="#d8d8d9" stop-opacity="0"/><stop offset=".97" stop-color="#cfcfd2" stop-opacity=".5"/><stop offset="1" stop-color="#c4c4c7" stop-opacity=".8"/></linearGradient>
<linearGradient id="sil" x1="0" y1="364" x2="0" y2="712" gradientUnits="userSpaceOnUse">
<stop offset="0" stop-color="#b9b9bc"/><stop offset=".5" stop-color="#a2a2a5"/><stop offset="1" stop-color="#a8a8ab"/></linearGradient>
<filter id="blur4" x="-10%" y="-200%" width="120%" height="500%"><feGaussianBlur stdDeviation="4"/></filter>
<filter id="blur1" x="-5%" y="-50%" width="110%" height="200%"><feGaussianBlur stdDeviation="0.6"/></filter>
</defs>
<rect x="36" y="765" width="640" height="11" rx="5" fill="#9a9a9e" opacity=".55" filter="url(#blur4)"/>
<path d="M46 767 H664 Q668 767 664 770 Q650 774.5 620 774.5 H80 Q56 774.5 46 770 Q42 767 46 767Z" fill="#d2d2d4"/>
<path d="M40 766.4 H668 L664 769 H46Z" fill="#2a2a2c" filter="url(#blur1)"/>
<path d="M92.5 711.5 H605.8 L674.8 753.6 H33.6Z" fill="url(#deck)"/>
<rect x="95" y="704" width="508" height="10.4" fill="#7b7b7e"/>
<rect x="95" y="709" width="508" height="1.6" fill="#8f8f92"/>
<rect x="148.7" y="712.2" width="400.9" height="1.6" fill="#d9d9db"/>
<path d="M96 713.2 H148.7 M549.6 713.2 H602" stroke="#a4a4a7" stroke-width="1" fill="none"/>
<path d="M110 714.4 H589.6 L604.8 733.5 H87.8Z" fill="#101011"/>
<path d="M141.6 717.0 h3.2 l1.0 1.9 h-3.2Z" fill="#d2d2d5" opacity="0.55"/>
<path d="M158.3 717.0 h3.2 l0.9 1.9 h-3.2Z" fill="#d2d2d5" opacity="0.64"/>
<path d="M172.6 717.0 h3.2 l0.8 1.9 h-3.2Z" fill="#d2d2d5" opacity="0.73"/>
<path d="M189.3 717.0 h3.2 l0.7 1.9 h-3.2Z" fill="#d2d2d5" opacity="0.82"/>
<path d="M203.6 717.0 h3.2 l0.6 1.9 h-3.2Z" fill="#d2d2d5" opacity="0.91"/>
<path d="M220.4 717.0 h3.2 l0.5 1.9 h-3.2Z" fill="#d2d2d5" opacity="0.59"/>
<path d="M234.6 717.0 h3.2 l0.4 1.9 h-3.2Z" fill="#d2d2d5" opacity="0.68"/>
<path d="M248.9 717.0 h3.2 l0.3 1.9 h-3.2Z" fill="#d2d2d5" opacity="0.77"/>
<path d="M265.7 717.0 h3.2 l0.2 1.9 h-3.2Z" fill="#d2d2d5" opacity="0.86"/>
<path d="M279.9 717.0 h3.2 l0.1 1.9 h-3.2Z" fill="#d2d2d5" opacity="0.55"/>
<path d="M296.7 717.0 h3.2 l-0.1 1.9 h-3.2Z" fill="#d2d2d5" opacity="0.64"/>
<path d="M311.0 717.0 h3.2 l-0.2 1.9 h-3.2Z" fill="#d2d2d5" opacity="0.73"/>
<path d="M327.7 717.0 h3.2 l-0.3 1.9 h-3.2Z" fill="#d2d2d5" opacity="0.82"/>
<path d="M342.0 717.0 h3.2 l-0.4 1.9 h-3.2Z" fill="#d2d2d5" opacity="0.91"/>
<path d="M356.3 717.0 h3.2 l-0.5 1.9 h-3.2Z" fill="#d2d2d5" opacity="0.59"/>
<path d="M373.0 717.0 h3.2 l-0.6 1.9 h-3.2Z" fill="#d2d2d5" opacity="0.68"/>
<path d="M387.3 717.0 h3.2 l-0.7 1.9 h-3.2Z" fill="#d2d2d5" opacity="0.77"/>
<path d="M404.0 717.0 h3.2 l-0.8 1.9 h-3.2Z" fill="#d2d2d5" opacity="0.86"/>
<path d="M418.3 717.0 h3.2 l-0.9 1.9 h-3.2Z" fill="#d2d2d5" opacity="0.55"/>
<path d="M435.0 717.0 h3.2 l-1.0 1.9 h-3.2Z" fill="#d2d2d5" opacity="0.64"/>
<path d="M449.3 717.0 h3.2 l-1.1 1.9 h-3.2Z" fill="#d2d2d5" opacity="0.73"/>
<path d="M463.6 717.0 h3.2 l-1.2 1.9 h-3.2Z" fill="#d2d2d5" opacity="0.82"/>
<path d="M480.3 717.0 h3.2 l-1.3 1.9 h-3.2Z" fill="#d2d2d5" opacity="0.91"/>
<path d="M494.6 717.0 h3.2 l-1.4 1.9 h-3.2Z" fill="#d2d2d5" opacity="0.59"/>
<path d="M511.4 717.0 h3.2 l-1.5 1.9 h-3.2Z" fill="#d2d2d5" opacity="0.68"/>
<path d="M525.6 717.0 h3.2 l-1.6 1.9 h-3.2Z" fill="#d2d2d5" opacity="0.77"/>
<path d="M542.4 717.0 h3.2 l-1.8 1.9 h-3.2Z" fill="#d2d2d5" opacity="0.86"/>
<path d="M556.7 717.0 h3.2 l-1.9 1.9 h-3.2Z" fill="#d2d2d5" opacity="0.55"/>
<path d="M570.9 717.0 h3.2 l-1.9 1.9 h-3.2Z" fill="#d2d2d5" opacity="0.64"/>
<path d="M142.5 721.2 h3.5 l1.0 2.2 h-3.5Z" fill="#d2d2d5" opacity="0.64"/>
<path d="M159.5 721.2 h3.5 l0.9 2.2 h-3.5Z" fill="#d2d2d5" opacity="0.73"/>
<path d="M174.1 721.2 h3.5 l0.8 2.2 h-3.5Z" fill="#d2d2d5" opacity="0.82"/>
<path d="M188.6 721.2 h3.5 l0.7 2.2 h-3.5Z" fill="#d2d2d5" opacity="0.91"/>
<path d="M205.7 721.2 h3.5 l0.6 2.2 h-3.5Z" fill="#d2d2d5" opacity="0.59"/>
<path d="M220.2 721.2 h3.5 l0.5 2.2 h-3.5Z" fill="#d2d2d5" opacity="0.68"/>
<path d="M237.3 721.2 h3.5 l0.4 2.2 h-3.5Z" fill="#d2d2d5" opacity="0.77"/>
<path d="M251.8 721.2 h3.5 l0.3 2.2 h-3.5Z" fill="#d2d2d5" opacity="0.86"/>
<path d="M268.9 721.2 h3.5 l0.1 2.2 h-3.5Z" fill="#d2d2d5" opacity="0.55"/>
<path d="M283.4 721.2 h3.5 l0.0 2.2 h-3.5Z" fill="#d2d2d5" opacity="0.64"/>
<path d="M298.0 721.2 h3.5 l-0.1 2.2 h-3.5Z" fill="#d2d2d5" opacity="0.73"/>
<path d="M315.0 721.2 h3.5 l-0.2 2.2 h-3.5Z" fill="#d2d2d5" opacity="0.82"/>
<path d="M329.5 721.2 h3.5 l-0.3 2.2 h-3.5Z" fill="#d2d2d5" opacity="0.91"/>
<path d="M346.6 721.2 h3.5 l-0.4 2.2 h-3.5Z" fill="#d2d2d5" opacity="0.59"/>
<path d="M361.1 721.2 h3.5 l-0.5 2.2 h-3.5Z" fill="#d2d2d5" opacity="0.68"/>
<path d="M378.2 721.2 h3.5 l-0.6 2.2 h-3.5Z" fill="#d2d2d5" opacity="0.77"/>
<path d="M392.7 721.2 h3.5 l-0.7 2.2 h-3.5Z" fill="#d2d2d5" opacity="0.86"/>
<path d="M407.3 721.2 h3.5 l-0.8 2.2 h-3.5Z" fill="#d2d2d5" opacity="0.55"/>
<path d="M424.3 721.2 h3.5 l-0.9 2.2 h-3.5Z" fill="#d2d2d5" opacity="0.64"/>
<path d="M438.9 721.2 h3.5 l-1.0 2.2 h-3.5Z" fill="#d2d2d5" opacity="0.73"/>
<path d="M455.9 721.2 h3.5 l-1.2 2.2 h-3.5Z" fill="#d2d2d5" opacity="0.82"/>
<path d="M470.5 721.2 h3.5 l-1.3 2.2 h-3.5Z" fill="#d2d2d5" opacity="0.91"/>
<path d="M487.5 721.2 h3.5 l-1.4 2.2 h-3.5Z" fill="#d2d2d5" opacity="0.59"/>
<path d="M502.1 721.2 h3.5 l-1.5 2.2 h-3.5Z" fill="#d2d2d5" opacity="0.68"/>
<path d="M516.6 721.2 h3.5 l-1.6 2.2 h-3.5Z" fill="#d2d2d5" opacity="0.77"/>
<path d="M533.7 721.2 h3.5 l-1.7 2.2 h-3.5Z" fill="#d2d2d5" opacity="0.86"/>
<path d="M548.2 721.2 h3.5 l-1.8 2.2 h-3.5Z" fill="#d2d2d5" opacity="0.55"/>
<path d="M565.2 721.2 h3.5 l-1.9 2.2 h-3.5Z" fill="#d2d2d5" opacity="0.64"/>
<path d="M579.8 721.2 h3.5 l-2.0 2.2 h-3.5Z" fill="#d2d2d5" opacity="0.73"/>
<path d="M131.6 725.5 h3.7 l1.1 2.3 h-3.7Z" fill="#d2d2d5" opacity="0.73"/>
<path d="M146.9 725.5 h3.7 l1.0 2.3 h-3.7Z" fill="#d2d2d5" opacity="0.82"/>
<path d="M164.9 725.5 h3.7 l0.9 2.3 h-3.7Z" fill="#d2d2d5" opacity="0.91"/>
<path d="M180.2 725.5 h3.7 l0.8 2.3 h-3.7Z" fill="#d2d2d5" opacity="0.59"/>
<path d="M198.2 725.5 h3.7 l0.6 2.3 h-3.7Z" fill="#d2d2d5" opacity="0.68"/>
<path d="M213.6 725.5 h3.7 l0.5 2.3 h-3.7Z" fill="#d2d2d5" opacity="0.77"/>
<path d="M228.9 725.5 h3.7 l0.4 2.3 h-3.7Z" fill="#d2d2d5" opacity="0.86"/>
<path d="M246.9 725.5 h3.7 l0.3 2.3 h-3.7Z" fill="#d2d2d5" opacity="0.55"/>
<path d="M262.3 725.5 h3.7 l0.2 2.3 h-3.7Z" fill="#d2d2d5" opacity="0.64"/>
<path d="M280.2 725.5 h3.7 l0.1 2.3 h-3.7Z" fill="#d2d2d5" opacity="0.73"/>
<path d="M295.6 725.5 h3.7 l-0.0 2.3 h-3.7Z" fill="#d2d2d5" opacity="0.82"/>
<path d="M313.6 725.5 h3.7 l-0.2 2.3 h-3.7Z" fill="#d2d2d5" opacity="0.91"/>
<path d="M328.9 725.5 h3.7 l-0.3 2.3 h-3.7Z" fill="#d2d2d5" opacity="0.59"/>
<path d="M344.3 725.5 h3.7 l-0.4 2.3 h-3.7Z" fill="#d2d2d5" opacity="0.68"/>
<path d="M362.2 725.5 h3.7 l-0.5 2.3 h-3.7Z" fill="#d2d2d5" opacity="0.77"/>
<path d="M377.6 725.5 h3.7 l-0.6 2.3 h-3.7Z" fill="#d2d2d5" opacity="0.86"/>
<path d="M395.6 725.5 h3.7 l-0.7 2.3 h-3.7Z" fill="#d2d2d5" opacity="0.55"/>
<path d="M410.9 725.5 h3.7 l-0.8 2.3 h-3.7Z" fill="#d2d2d5" opacity="0.64"/>
<path d="M428.9 725.5 h3.7 l-1.0 2.3 h-3.7Z" fill="#d2d2d5" opacity="0.73"/>
<path d="M444.2 725.5 h3.7 l-1.1 2.3 h-3.7Z" fill="#d2d2d5" opacity="0.82"/>
<path d="M459.6 725.5 h3.7 l-1.2 2.3 h-3.7Z" fill="#d2d2d5" opacity="0.91"/>
<path d="M477.6 725.5 h3.7 l-1.3 2.3 h-3.7Z" fill="#d2d2d5" opacity="0.59"/>
<path d="M492.9 725.5 h3.7 l-1.4 2.3 h-3.7Z" fill="#d2d2d5" opacity="0.68"/>
<path d="M510.9 725.5 h3.7 l-1.5 2.3 h-3.7Z" fill="#d2d2d5" opacity="0.77"/>
<path d="M526.2 725.5 h3.7 l-1.6 2.3 h-3.7Z" fill="#d2d2d5" opacity="0.86"/>
<path d="M544.2 725.5 h3.7 l-1.8 2.3 h-3.7Z" fill="#d2d2d5" opacity="0.55"/>
<path d="M559.6 725.5 h3.7 l-1.9 2.3 h-3.7Z" fill="#d2d2d5" opacity="0.64"/>
<path d="M574.9 725.5 h3.7 l-2.0 2.3 h-3.7Z" fill="#d2d2d5" opacity="0.73"/>
<path d="M151.4 730.4 h3.4 l1.0 2.7 h-3.4Z" fill="#d2d2d5" opacity="0.82"/>
<path d="M195.3 730.4 h3.4 l0.6 2.7 h-3.4Z" fill="#d2d2d5" opacity="0.91"/>
<path d="M239.1 730.4 h3.4 l0.3 2.7 h-3.4Z" fill="#d2d2d5" opacity="0.59"/>
<path d="M290.5 730.4 h3.4 l-0.0 2.7 h-3.4Z" fill="#d2d2d5" opacity="0.68"/>
<path d="M481.1 730.4 h3.4 l-1.3 2.7 h-3.4Z" fill="#d2d2d5" opacity="0.64"/>
<path d="M524.9 730.4 h3.4 l-1.6 2.7 h-3.4Z" fill="#d2d2d5" opacity="0.73"/>
<path d="M568.8 730.4 h3.4 l-1.9 2.7 h-3.4Z" fill="#d2d2d5" opacity="0.82"/>
<line x1="103.6" y1="719.9" x2="594.0" y2="719.9" stroke="#2c2c2e" stroke-width=".6"/>
<line x1="98.4" y1="724.4" x2="597.6" y2="724.4" stroke="#2c2c2e" stroke-width=".6"/>
<line x1="92.7" y1="729.3" x2="601.5" y2="729.3" stroke="#2c2c2e" stroke-width=".6"/>
<path d="M87.8 733.5 H616 " stroke="#8e8e91" stroke-width=".8" fill="none"/>
<path d="M220.2 733.9 H484 L498 753.6 H210.6Z" fill="#9d9da0"/>
<path d="M33.6 753.6 H674.8 V757 Q674.8 764.5 662 766.2 L640 767.4 H70 L46 766.2 Q33.6 764.5 33.6 757Z" fill="url(#lip)"/>
<path d="M33.6 753.6 H674.8 V757 Q674.8 764.5 662 766.2 L640 767.4 H70 L46 766.2 Q33.6 764.5 33.6 757Z" fill="url(#lipx)"/>
<path d="M33.6 753.9 H674.8" stroke="#f6f6f7" stroke-width="1" fill="none"/>
<path d="M297.5 754 H412.5 L410 761.2 H300Z" fill="#fbfbfc"/>
<path d="M91.2 378 Q91.2 363.5 105.7 363.5 H591.5 Q606 363.5 606 378 V704.6 Q606 710.4 600.2 710.4 H97 Q91.2 710.4 91.2 704.6Z" fill="url(#sil)"/>
<path d="M92.5 378 Q92.5 364.8 105.7 364.8 H591.5 Q604.7 364.8 604.7 378 V704.4 Q604.7 709.6 599.5 709.6 H97.7 Q92.5 709.6 92.5 704.4Z" fill="#707074"/>
<path d="M94.2 378 Q94.2 366.1 106 366.1 H591.2 Q603 366.1 603 378 V704.2 Q603 708.8 598.4 708.8 H549.6 V711.9 H148.7 V708.8 H98.8 Q94.2 708.8 94.2 704.2Z" fill="#0c0c0d"/>
<rect x="106.2" y="379.8" width="485.9" height="306.7" fill="#f5f5f6"/>
</svg>
<!-- ============ laptop screen: flow builder ============ -->
<svg class="abs" style="left:0;top:0" width="940" height="788" viewBox="0 0 940 788">
<defs><clipPath id="scr"><rect x="106.2" y="379.8" width="485.9" height="306.7"/></clipPath><filter id="tsh" x="-30%" y="-10%" width="160%" height="120%"><feGaussianBlur stdDeviation="2.2"/></filter></defs>
<g clip-path="url(#scr)">
<path d="M193 424.8 V432.9" stroke="#b3b6bb" stroke-width=".65" fill="none"/>
<path d="M193 463.3 V472.9" stroke="#b3b6bb" stroke-width=".65" fill="none"/>
<path d="M223.4 495.8 C252 495.8 246 408.4 277.2 408.4" stroke="#b3b6bb" stroke-width=".65" fill="none"/>
<path d="M309.6 428.6 V437.1" stroke="#b3b6bb" stroke-width=".65" fill="none"/>
<path d="M309.6 467.6 V474.8" stroke="#b3b6bb" stroke-width=".65" fill="none"/>
<path d="M309.6 492.4 V513.1" stroke="#b3b6bb" stroke-width=".65" fill="none"/>
<path d="M309.6 549.3 V566.7" stroke="#b3b6bb" stroke-width=".65" fill="none"/>
<path d="M340.2 533.4 C392 533.4 412.6 532 412.6 566.6" stroke="#b3b6bb" stroke-width=".65" fill="none"/>
<path d="M309.6 597.6 V604.6" stroke="#b3b6bb" stroke-width=".65" fill="none"/>
<path d="M309.6 633.8 V640.8" stroke="#b3b6bb" stroke-width=".65" fill="none"/>
<path d="M412.6 597.6 V604" stroke="#b3b6bb" stroke-width=".65" fill="none"/>
<path d="M412.6 621.5 V640" stroke="#b3b6bb" stroke-width=".65" fill="none"/>
<path d="M277.5 577.4 C271 577.6 268.2 583 268.4 592 C268.8 625 273 655 280.5 690" stroke="#b3b6bb" stroke-width=".65" fill="none"/>
<path d="M380.6 577.4 C374 577.6 371.2 583 371.4 592 C371.8 625 376 655 383.5 690" stroke="#b3b6bb" stroke-width=".65" fill="none"/>
<path d="M309.6 682.9 V690" stroke="#b3b6bb" stroke-width=".65" fill="none"/>
<path d="M412.6 682 V690" stroke="#b3b6bb" stroke-width=".65" fill="none"/>
<rect x="160.6" y="395.3" width="64.4" height="29.4" rx="2.6" fill="#fff" stroke="#8ccff0" stroke-width=".9"/>
<path d="M161.1 414.8 H224.5 V422.2 Q224.5 424.2 222.5 424.2 H163.1 Q161.1 424.2 161.1 422.2Z" fill="#e4e5e8"/>
<text x="192.8" y="401.5" font-size="3.4" fill="#3cc06e" text-anchor="middle" font-weight="700" letter-spacing="0.1">CATCH</text>
<text x="192.8" y="420.6" font-size="2.7" fill="#8d9097" text-anchor="middle" font-weight="400" letter-spacing="0">_UNHANDLED_</text>
<rect x="189.6" y="422.3" width="6.4" height="2.6" rx="1" fill="#36c568"/>
<rect x="160.6" y="432.9" width="64.4" height="30.4" rx="2.6" fill="#fff" stroke="#8ccff0" stroke-width=".9"/>
<text x="192.8" y="438.0" font-size="3.4" fill="#3fa7e6" text-anchor="middle" font-weight="700" letter-spacing="0.1">TEXT</text>
<rect x="163.4" y="442.9" width="58.8" height="15.4" rx="1" fill="#fff" stroke="#eceef1" stroke-width=".6"/>
<text x="164.9" y="448.4" font-size="3.3" fill="#8d93a0" text-anchor="start" font-weight="400" letter-spacing="0">Hold on, connecting you to a</text>
<text x="164.9" y="452.6" font-size="3.3" fill="#8d93a0" text-anchor="start" font-weight="400" letter-spacing="0">human...</text>
<rect x="189.6" y="461.4" width="6.4" height="2.6" rx="1" fill="#36c568"/>
<rect x="160.6" y="472.9" width="64.4" height="30.2" rx="2.6" fill="#fff" stroke="#b5b7bc" stroke-width=".9"/>
<text x="192.8" y="478.8" font-size="3.4" fill="#4a4d55" text-anchor="middle" font-weight="700" letter-spacing="0.1">LIVECHAT</text>
<rect x="162.8" y="493.1" width="60.6" height="6.0" rx="1" fill="#e3e4e7"/>
<text x="192.8" y="497.3" font-size="2.8" fill="#e8534f" text-anchor="middle" font-weight="700" letter-spacing="0">ERROR</text>
<rect x="163.0" y="493.1" width="1.9" height="6" rx=".8" fill="#36c568"/>
<rect x="221.2" y="493.1" width="1.9" height="6" rx=".8" fill="#36c568"/>
<rect x="277.4" y="397.3" width="64.4" height="31.3" rx="2.6" fill="#fff" stroke="#8ccff0" stroke-width=".9"/>
<text x="309.6" y="403.3" font-size="3.4" fill="#3fa7e6" text-anchor="middle" font-weight="700" letter-spacing="0.1">TEXT</text>
<rect x="280.2" y="407.7" width="58.8" height="15.2" rx="1" fill="#fff" stroke="#eceef1" stroke-width=".6"/>
<text x="282.0" y="413.5" font-size="3.3" fill="#8d93a0" text-anchor="start" font-weight="400" letter-spacing="0">Oops, sorry - it looks like all agents</text>
<text x="282.0" y="417.8" font-size="3.3" fill="#8d93a0" text-anchor="start" font-weight="400" letter-spacing="0">are busy now.</text>
<rect x="306.4" y="426.5" width="6.4" height="2.6" rx="1" fill="#36c568"/>
<rect x="277.4" y="437.1" width="64.4" height="30.5" rx="2.6" fill="#fff" stroke="#8ccff0" stroke-width=".9"/>
<text x="309.6" y="443.1" font-size="3.4" fill="#3fa7e6" text-anchor="middle" font-weight="700" letter-spacing="0.1">TEXT</text>
<rect x="280.2" y="447.5" width="58.8" height="15.2" rx="1" fill="#fff" stroke="#eceef1" stroke-width=".6"/>
<text x="282.0" y="453.3" font-size="3.3" fill="#8d93a0" text-anchor="start" font-weight="400" letter-spacing="0">Please ask your question, hit "Send"</text>
<text x="282.0" y="457.6" font-size="3.3" fill="#8d93a0" text-anchor="start" font-weight="400" letter-spacing="0">or "Enter", and someone will be ...</text>
<rect x="306.4" y="465.5" width="6.4" height="2.6" rx="1" fill="#36c568"/>
<rect x="277.4" y="474.8" width="64.4" height="17.6" rx="2.6" fill="#fff" stroke="#8ccff0" stroke-width=".9"/>
<text x="309.6" y="480.7" font-size="3.4" fill="#3fa7e6" text-anchor="middle" font-weight="700" letter-spacing="0.1">LISTEN</text>
<text x="279.8" y="484.2" font-size="2.9" fill="#3fa7e6" text-anchor="start" font-weight="700" letter-spacing="0">Wait for:</text>
<text x="292.0" y="484.2" font-size="2.9" fill="#9aa0aa" text-anchor="start" font-weight="400" letter-spacing="0">1</text>
<text x="279.8" y="488.4" font-size="2.9" fill="#3fa7e6" text-anchor="start" font-weight="700" letter-spacing="0">Save to:</text>
<text x="292.0" y="488.4" font-size="2.9" fill="#9aa0aa" text-anchor="start" font-weight="400" letter-spacing="0">$_message</text>
<rect x="306.4" y="490.6" width="6.4" height="2.6" rx="1" fill="#36c568"/>
<rect x="277.4" y="513.1" width="64.4" height="36.0" rx="2.6" fill="#fff" stroke="#d9dbdf" stroke-width=".9"/>
<path d="M277.9 539.8 H341.3 V546.6 Q341.3 548.6 339.3 548.6 H279.9 Q277.9 548.6 277.9 546.6Z" fill="#e4e5e8"/>
<text x="309.6" y="518.3" font-size="3.4" fill="#ecc25a" text-anchor="middle" font-weight="700" letter-spacing="0.1">SWITCH</text>
<text x="280.2" y="525.9" font-size="3.1" fill="#3fa7e6" text-anchor="start" font-weight="700" letter-spacing="0">$_email</text>
<rect x="278.7" y="529.9" width="61.6" height="7.0" rx="1.2" fill="#dfe0e4"/>
<text x="283.2" y="534.5" font-size="2.7" fill="#8d9097" text-anchor="start" font-weight="400" letter-spacing="0">1. EXIT-CONDITION IF...</text>
<rect x="278.8" y="530.1" width="2.6" height="6.6" rx="1.2" fill="#36c568"/>
<rect x="337.5" y="530.1" width="2.6" height="6.6" rx="1.2" fill="#36c568"/>
<rect x="306.2" y="547.1" width="6.8" height="2.4" rx="1" fill="#36c568"/>
<rect x="277.4" y="566.6" width="64.4" height="31.0" rx="2.6" fill="#fff" stroke="#8ccff0" stroke-width=".9"/>
<text x="309.6" y="572.6" font-size="3.4" fill="#3fa7e6" text-anchor="middle" font-weight="700" letter-spacing="0.1">TEXT</text>
<rect x="280.2" y="577.0" width="58.8" height="15.2" rx="1" fill="#fff" stroke="#eceef1" stroke-width=".6"/>
<text x="282.0" y="582.8" font-size="3.3" fill="#8d93a0" text-anchor="start" font-weight="400" letter-spacing="0">Ok. What's your best email?</text>
<rect x="306.4" y="595.5" width="6.4" height="2.6" rx="1" fill="#36c568"/>
<rect x="276.8" y="604.6" width="64.4" height="29.2" rx="2.6" fill="#fff" stroke="#8ccff0" stroke-width=".9"/>
<text x="309.0" y="610.5" font-size="3.4" fill="#3fa7e6" text-anchor="middle" font-weight="700" letter-spacing="0.1">LISTEN</text>
<text x="279.2" y="614.0" font-size="2.9" fill="#3fa7e6" text-anchor="start" font-weight="700" letter-spacing="0">Wait for:</text>
<text x="291.4" y="614.0" font-size="2.9" fill="#9aa0aa" text-anchor="start" font-weight="400" letter-spacing="0">1</text>
<text x="279.2" y="618.2" font-size="2.9" fill="#3fa7e6" text-anchor="start" font-weight="700" letter-spacing="0">Save to:</text>
<text x="291.4" y="618.2" font-size="2.9" fill="#9aa0aa" text-anchor="start" font-weight="400" letter-spacing="0">$_email</text>
<rect x="279.6" y="622.4" width="58.8" height="6.6" rx="1.4" fill="#fff" stroke="#dfe1e5" stroke-width=".6"/>
<rect x="279.6" y="622.4" width="2.2" height="6.6" rx="1" fill="#f0c040"/>
<rect x="336.2" y="622.4" width="2.2" height="6.6" rx="1" fill="#f0c040"/>
<text x="309.6" y="626.8" font-size="2.9" fill="#8d9097" text-anchor="middle" font-weight="400" letter-spacing="0">$_email</text>
<rect x="306.4" y="631.7" width="6.4" height="2.6" rx="1" fill="#36c568"/>
<rect x="277.0" y="640.8" width="64.4" height="42.1" rx="2.6" fill="#fff" stroke="#a9acb2" stroke-width=".9"/>
<text x="309.2" y="646.5" font-size="3.4" fill="#4a4d55" text-anchor="middle" font-weight="700" letter-spacing="0.1">VALIDATION</text>
<text x="280.2" y="654.2" font-size="2.7" fill="#a3a7af" text-anchor="start" font-weight="400" letter-spacing="0">• type: email</text>
<text x="280.2" y="657.8" font-size="2.7" fill="#a3a7af" text-anchor="start" font-weight="400" letter-spacing="0">• value: $_email</text>
<rect x="279.2" y="665.0" width="60.0" height="6.2" rx="1.2" fill="#e3e4e7"/>
<rect x="279.2" y="665.0" width="2" height="6.2" rx=".9" fill="#f0c040"/>
<rect x="337.2" y="665.0" width="2" height="6.2" rx=".9" fill="#f0c040"/>
<text x="309.2" y="669.4" font-size="2.8" fill="#e8534f" text-anchor="middle" font-weight="700" letter-spacing="0">ERROR</text>
<path d="M277.5 674.2 H340.9 V680.5 Q340.9 682.4 338.9 682.4 H279.5 Q277.5 682.4 277.5 680.5Z" fill="#e0e1e5"/>
<text x="309.2" y="679.4" font-size="2.8" fill="#3cc06e" text-anchor="middle" font-weight="700" letter-spacing="0">SUCCESS</text>
<rect x="306.0" y="680.9" width="6.4" height="2.2" rx="1" fill="#36c568"/>
<rect x="380.4" y="566.6" width="64.4" height="31.0" rx="2.6" fill="#fff" stroke="#8ccff0" stroke-width=".9"/>
<text x="412.6" y="572.6" font-size="3.4" fill="#3fa7e6" text-anchor="middle" font-weight="700" letter-spacing="0.1">TEXT</text>
<rect x="383.2" y="577.0" width="58.8" height="15.2" rx="1" fill="#fff" stroke="#eceef1" stroke-width=".6"/>
<text x="385.0" y="582.8" font-size="3.3" fill="#8d93a0" text-anchor="start" font-weight="400" letter-spacing="0">Ok. What's your best email?</text>
<rect x="409.4" y="595.5" width="6.4" height="2.6" rx="1" fill="#36c568"/>
<rect x="380.4" y="604.0" width="64.4" height="17.6" rx="2.6" fill="#fff" stroke="#8ccff0" stroke-width=".9"/>
<text x="412.6" y="609.9" font-size="3.4" fill="#3fa7e6" text-anchor="middle" font-weight="700" letter-spacing="0.1">LISTEN</text>
<text x="382.8" y="613.4" font-size="2.9" fill="#3fa7e6" text-anchor="start" font-weight="700" letter-spacing="0">Wait for:</text>
<text x="395.0" y="613.4" font-size="2.9" fill="#9aa0aa" text-anchor="start" font-weight="400" letter-spacing="0">1</text>
<text x="382.8" y="617.6" font-size="2.9" fill="#3fa7e6" text-anchor="start" font-weight="700" letter-spacing="0">Save to:</text>
<text x="395.0" y="617.6" font-size="2.9" fill="#9aa0aa" text-anchor="start" font-weight="400" letter-spacing="0">$_email</text>
<rect x="409.4" y="619.6" width="6.4" height="2.6" rx="1" fill="#36c568"/>
<rect x="380.4" y="640.0" width="64.4" height="42.0" rx="2.6" fill="#fff" stroke="#a9acb2" stroke-width=".9"/>
<text x="412.6" y="645.7" font-size="3.4" fill="#4a4d55" text-anchor="middle" font-weight="700" letter-spacing="0.1">VALIDATION</text>
<text x="383.6" y="653.4" font-size="2.7" fill="#a3a7af" text-anchor="start" font-weight="400" letter-spacing="0">• type: email</text>
<text x="383.6" y="657.0" font-size="2.7" fill="#a3a7af" text-anchor="start" font-weight="400" letter-spacing="0">• value: $_email</text>
<rect x="382.6" y="664.2" width="60.0" height="6.2" rx="1.2" fill="#e3e4e7"/>
<rect x="382.6" y="664.2" width="2" height="6.2" rx=".9" fill="#f0c040"/>
<rect x="440.6" y="664.2" width="2" height="6.2" rx=".9" fill="#f0c040"/>
<text x="412.6" y="668.6" font-size="2.8" fill="#e8534f" text-anchor="middle" font-weight="700" letter-spacing="0">ERROR</text>
<path d="M380.9 673.4 H444.3 V679.6 Q444.3 681.5 442.3 681.5 H382.9 Q380.9 681.5 380.9 679.6Z" fill="#e0e1e5"/>
<text x="412.6" y="678.6" font-size="2.8" fill="#3cc06e" text-anchor="middle" font-weight="700" letter-spacing="0">SUCCESS</text>
<rect x="409.4" y="680.0" width="6.4" height="2.2" rx="1" fill="#36c568"/>
<rect x="114.6" y="455.4" width="29.4" height="200.4" rx="5.5" fill="#c9ccd3" opacity=".55" filter="url(#tsh)"/>
<rect x="115.2" y="455.2" width="28" height="199.4" rx="5" fill="#fefefe"/>
<rect x="119.3" y="459.9" width="18.9" height="19" rx="2.2" fill="#3a8fe9"/>
<rect x="119.3" y="484.7" width="18.9" height="19" rx="2.2" fill="#5cc66b"/>
<rect x="119.3" y="509.2" width="18.9" height="19" rx="2.2" fill="#f0c141"/>
<rect x="119.3" y="533.4" width="18.9" height="19" rx="2.2" fill="#f98c8c"/>
<rect x="119.3" y="557.7" width="18.9" height="19" rx="2.2" fill="#66bbfb"/>
<rect x="119.3" y="582.2" width="18.9" height="19" rx="2.2" fill="#9ea8ba"/>
<rect x="119.3" y="606.4" width="18.9" height="19" rx="2.2" fill="#8f7f9f"/>
<rect x="119.3" y="630.7" width="18.9" height="19" rx="2.2" fill="#41d07b"/>
<g transform="translate(128.75,469.4)" fill="none" stroke="#fff" stroke-width=".9" stroke-linecap="round" stroke-linejoin="round"><path d="M-3 -3.2 H3 M-3 -1 H3 M-3 1.2 H3 M-3 3.4 H1"/><rect x="-3.6" y="-4.2" width="7.2" height="8.6" rx=".8" stroke-width=".6"/></g>
<g transform="translate(128.75,494.2)" fill="none" stroke="#fff" stroke-width=".9" stroke-linecap="round" stroke-linejoin="round"><circle r="3.2"/><path d="M-1.4 0 L-.3 1.2 L1.7 -1.2"/></g>
<g transform="translate(128.75,518.7)" fill="none" stroke="#fff" stroke-width=".9" stroke-linecap="round" stroke-linejoin="round"><path d="M-2.8 -2.6 H2.8 M-2.8 -.2 H2 M-2.8 2.2 H0 M1.6 1.4 L3.2 3 "/></g>
<g transform="translate(128.75,542.9)" fill="none" stroke="#fff" stroke-width=".9" stroke-linecap="round" stroke-linejoin="round"><circle cy=".6" r="3"/><path d="M0 .6 V-1.2 M-1 -3.6 H1"/></g>
<g transform="translate(128.75,567.2)" fill="none" stroke="#fff" stroke-width=".9" stroke-linecap="round" stroke-linejoin="round"><circle cy="-2" r="1.4"/><path d="M-3 3.2 H3 M-2.4 1 H2.4 V3.2 H-2.4Z"/></g>
<g transform="translate(128.75,591.7)" fill="none" stroke="#fff" stroke-width=".9" stroke-linecap="round" stroke-linejoin="round"><rect x="-3" y="-3" width="6" height="6" rx=".6"/><path d="M-3 -1 H3 M-1 -1 V3 M1 -1 V3 M-3 1 H3" stroke-width=".6"/></g>
<g transform="translate(128.75,615.9)" fill="none" stroke="#fff" stroke-width=".9" stroke-linecap="round" stroke-linejoin="round"><path d="M-3.4 -3 H-2.2 L-1 1.4 H2.6 L3.4 -1.4 H-1.8 M-.6 3.2 h.1 M2.2 3.2 h.1 M.8 -3.4 V-.6"/></g>
<g transform="translate(128.75,640.2)" fill="none" stroke="#fff" stroke-width=".9" stroke-linecap="round" stroke-linejoin="round"><path d="M-1.4 -3.4 V3.4 M1.4 -3.4 V3.4 M-1.4 -1 Q-3.6 -1 -3.4 1.2 M1.4 1 Q3.6 1 3.4 -1.2"/></g>
</g></svg>
</div></body></html>
